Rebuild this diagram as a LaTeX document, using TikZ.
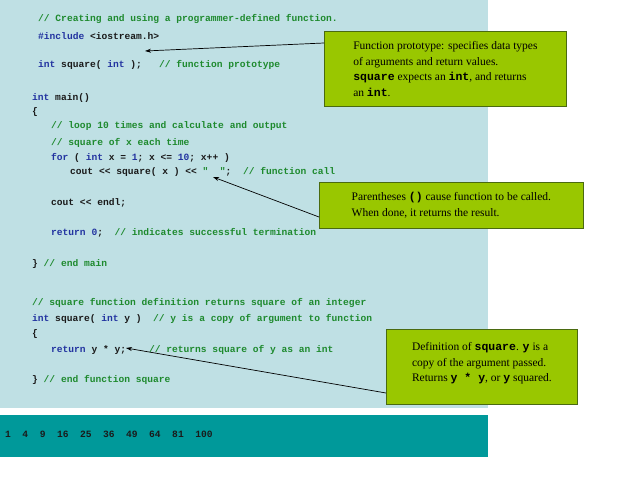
\documentclass[tikz,border=0pt]{standalone}
\usepackage{fontspec}
\setmainfont{Liberation Serif}
\setmonofont{Liberation Mono}
\usetikzlibrary{arrows.meta}
\definecolor{bgblue}{HTML}{BFE0E4}
\definecolor{teal2}{HTML}{00999A}
\definecolor{cm}{HTML}{1E8A2E}
\definecolor{kw}{HTML}{2233A0}
\definecolor{tx}{HTML}{1A1A1A}
\definecolor{callfill}{HTML}{99C700}
\definecolor{callbd}{HTML}{4A6A10}
\newcommand{\C}[1]{\textcolor{cm}{#1}}
\newcommand{\K}[1]{\textcolor{kw}{#1}}
\newcommand{\tb}[1]{\textbf{\ttfamily #1}}
\begin{document}
\begin{tikzpicture}[x=1pt,y=-1pt,
  code/.style={anchor=west,inner sep=0pt,font=\ttfamily\bfseries\fontsize{9.6}{11}\selectfont,text=tx},
  callout/.style={draw=callbd,line width=0.8pt,fill=callfill,anchor=north west,align=left,inner sep=4pt,font=\fontsize{11.5}{15.5}\selectfont},
  arr/.style={-{Stealth[length=6pt,width=4pt]},line width=0.7pt,black}]
\useasboundingbox (0,0) rectangle (638,478);
\fill[white] (0,0) rectangle (638,478);
\fill[bgblue] (0,0) rectangle (488,408);
\fill[teal2] (0,415) rectangle (488,457);
\node[code] (l1) at (38,19) {\C{// Creating and using a programmer-defined function.}};
\node[code] (l2) at (38,36) {\K{\#include} <iostream.h>};
\node[code] (l3) at (38,65) {\K{int} square( \K{int} );\ \ \ \C{// function prototype}};
\node[code] (l4) at (32,98) {\K{int} main()};
\node[code] (l5) at (32,112) {\{};
\node[code] (l6) at (51,126) {\C{// loop 10 times and calculate and output}};
\node[code] (l7) at (51,143) {\C{// square of x each time}};
\node[code] (l8) at (51,158) {\K{for} ( \K{int} x = \K{1}; x <= \K{10}; x++ )};
\node[code] (l9) at (70,172) {cout << square( x ) << \C{"\ \ "};\ \ \C{// function call}};
\node[code] (l10) at (51,203) {cout << endl;};
\node[code] (l11) at (51,233) {\K{return} \K{0};\ \ \C{// indicates successful termination}};
\node[code] (l12) at (32,264) {\} \C{// end main}};
\node[code] (l13) at (32,303) {\C{// square function definition returns square of an integer}};
\node[code] (l14) at (32,319) {\K{int} square( \K{int} y )\ \ \C{// y is a copy of argument to function}};
\node[code] (l15) at (32,334) {\{};
\node[code] (l16) at (51,350) {\K{return} y * y;\ \ \ \ \C{// returns square of y as an int}};
\node[code] (l17) at (32,380) {\} \C{// end function square}};
\node[code] (out) at (5,434) {1\ \ 4\ \ 9\ \ 16\ \ 25\ \ 36\ \ 49\ \ 64\ \ 81\ \ 100};
\node[callout,minimum width=242pt,minimum height=75pt] (b1) at (324,31) {Function prototype: specifies data types\\of arguments and return values.\\\tb{square} expects an \tb{int}, and returns\\an \tb{int}.};
\node[callout,minimum width=264pt,minimum height=46pt] (b2) at (319,182) {Parentheses \tb{()} cause function to be called.\\When done, it returns the result.};
\node[callout,minimum width=191pt,minimum height=75pt,anchor=north west] (b3) at (386,329) {Definition of \tb{square}. \tb{y} is a\\copy of the argument passed.\\Returns \tb{y * y}, or \tb{y} squared.\vphantom{p}\\[-6pt]\mbox{}};
\coordinate (t1) at (145,51);
\coordinate (t2) at (213,177);
\coordinate (t3) at (126,348);
\draw[arr] (b1.north west |- 0,43) -- (t1);
\draw[arr] (b2.north west |- 0,217) -- (t2);
\draw[arr] (b3.north west |- 0,393) -- (t3);
\end{tikzpicture}
\end{document}
